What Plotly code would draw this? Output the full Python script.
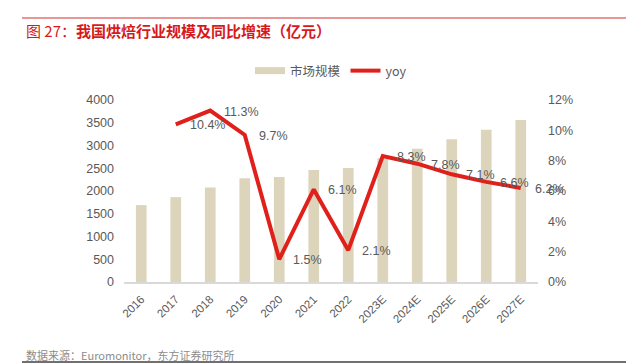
import plotly.graph_objects as go

years = ["2016", "2017", "2018", "2019", "2020", "2021", "2022",
         "2023E", "2024E", "2025E", "2026E", "2027E"]
market_size = [1690, 1865, 2076, 2280, 2310, 2460, 2508, 2720, 2930, 3140, 3345, 3560]
yoy_years = years[1:]
yoy = [0.104, 0.113, 0.097, 0.015, 0.061, 0.021, 0.083, 0.078, 0.071, 0.066, 0.062]
yoy_labels = ["10.4%", "11.3%", "9.7%", "1.5%", "6.1%", "2.1%", "8.3%", "7.8%", "7.1%", "6.6%", "6.2%"]

# page body has an 8px margin: figure occupies window pixels 8..634 / 8..363
OFF = 8
W, H = 634 - OFF, 363 - OFF
L, R, T, B = 124, 538, 100, 282   # plot-area edges in window pixels

def px(x):
    return (x - L) / (R - L)

def py(y):
    return (B - y) / (B - T)

FONT = "Liberation Sans, Arial, Noto Sans CJK SC, sans-serif"
CJK = "Noto Sans CJK SC, sans-serif"
GRAY = "#595959"
BEIGE = "#ddd4bc"
RED = "#e0201b"

fig = go.Figure()
fig.add_trace(go.Bar(
    x=years, y=market_size, name="市场规模",
    marker=dict(color=BEIGE, line=dict(width=0)),
    yaxis="y", showlegend=False,
))
# legend-only entry so the swatch is a wide bar like the original
fig.add_trace(go.Scatter(
    x=[None], y=[None], name="市场规模", mode="lines",
    line=dict(color=BEIGE, width=7), yaxis="y",
))
fig.add_trace(go.Scatter(
    x=yoy_years, y=yoy, name="yoy", mode="lines",
    line=dict(color=RED, width=4),
    yaxis="y2", cliponaxis=False,
))

for xv, yv, lab in zip(yoy_years, yoy, yoy_labels):
    fig.add_annotation(x=years.index(xv), y=yv, xref="x", yref="y2", text=lab, showarrow=False,
                       xanchor="left", yanchor="middle", xshift=12, yshift=-1,
                       font=dict(family=FONT, size=12.5, color=GRAY))

fig.update_layout(
    width=W, height=H,
    margin=dict(l=L - OFF, r=634 - R, t=T - OFF, b=363 - B, pad=0),
    paper_bgcolor="white", plot_bgcolor="white",
    bargap=0.69,
    showlegend=True,
    legend=dict(orientation="h", x=0.5, xanchor="center", y=py(71), yanchor="middle",
                font=dict(family=CJK, size=12.5, color=GRAY), bgcolor="rgba(0,0,0,0)",
                itemwidth=30, tracegroupgap=0),
    xaxis=dict(type="category", range=[-0.5, len(years) - 0.5], autorange=False,
               showline=True, linecolor="#d9d9d9", linewidth=2,
               ticks="", tickangle=-45, tickfont=dict(family=FONT, size=11.5, color=GRAY),
               ticklabelstandoff=4,
               showgrid=False, automargin=False),
    yaxis=dict(range=[0, 4000], dtick=500, showgrid=False, zeroline=False, showline=False,
               ticks="", tickfont=dict(family=FONT, size=12.5, color=GRAY), automargin=False,
               ticklabelstandoff=9),
    yaxis2=dict(range=[0, 0.12], dtick=0.02, tickformat=".0%", overlaying="y", side="right",
                showgrid=False, zeroline=False, showline=False, ticks="", automargin=False,
                ticklabelstandoff=9,
                tickfont=dict(family=FONT, size=12.5, color=GRAY)),
)

fig.add_annotation(text="图 27：<b>我国烘焙行业规模及同比增速（亿元）</b>", xref="paper", yref="paper",
                   x=px(24), y=py(30), xanchor="left", yanchor="middle", showarrow=False,
                   font=dict(family=CJK, size=15, color="#d7191c"))
fig.add_annotation(text="数据来源：Euromonitor，东方证券研究所", xref="paper", yref="paper",
                   x=px(24), y=py(355), xanchor="left", yanchor="middle", showarrow=False,
                   font=dict(family=CJK, size=11, color="#8c8c8c"))
fig.add_shape(type="line", xref="paper", yref="paper", x0=px(22), x1=px(640),
              y0=py(18), y1=py(18), line=dict(color="#e57373", width=1.5))
fig.add_shape(type="line", xref="paper", yref="paper", x0=px(22), x1=px(640),
              y0=py(362), y1=py(362), line=dict(color="#404040", width=1.5))

fig.write_html("out.html")
